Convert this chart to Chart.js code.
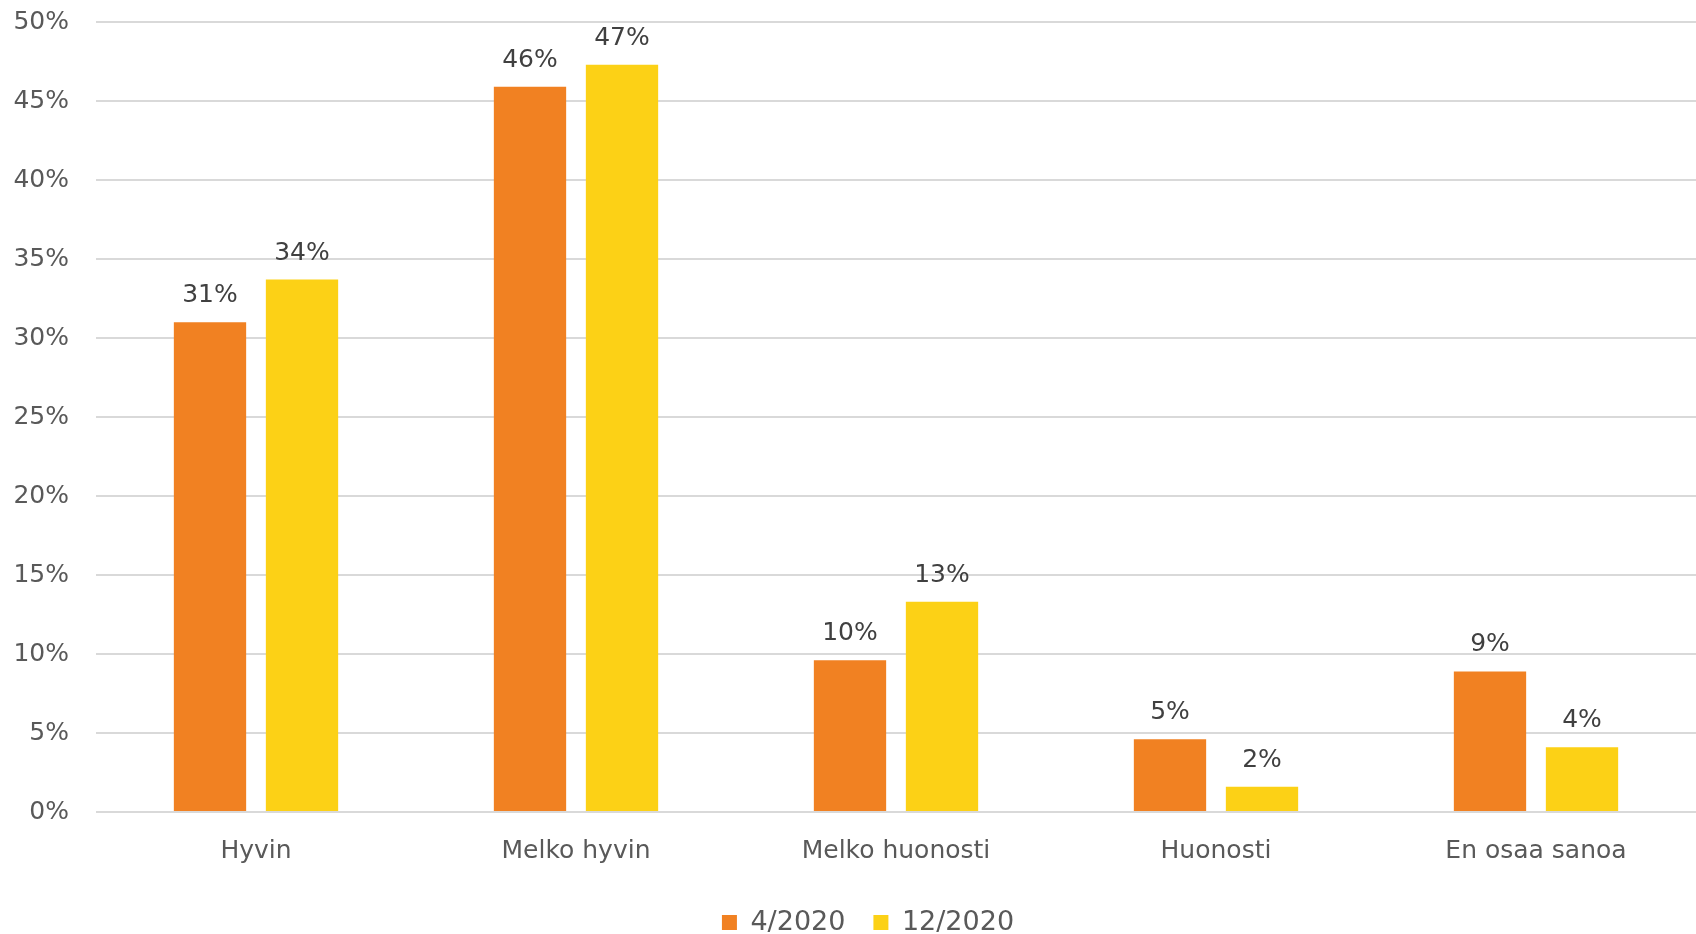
<!DOCTYPE html>
<html>
<head>
<meta charset="utf-8">
<script src="https://cdn.jsdelivr.net/npm/chart.js@4/dist/chart.umd.min.js"></script>
<style>
html,body{margin:0;padding:0;background:#fff;}
#wrap{width:1696px;height:934px;position:relative;}
</style>
</head>
<body>
<div id="wrap"><canvas id="c" width="1696" height="934"></canvas></div>
<script>
const categories = ["Hyvin", "Melko hyvin", "Melko huonosti", "Huonosti", "En osaa sanoa"];
const seriesNames = ["4/2020", "12/2020"];
const values_apr = [31.0, 45.9, 9.6, 4.6, 8.9];
const values_dec = [33.7, 47.3, 13.3, 1.6, 4.1];
const yTicks = [0, 5, 10, 15, 20, 25, 30, 35, 40, 45, 50];

const FONT = "'DejaVu Sans', sans-serif";
const labelPlugin = {
  id: 'barLabels',
  afterLayout(chart) {
    if (chart.legend) { chart.legend.left += 20; chart.legend.right += 20; }
  },
  afterDatasetsDraw(chart) {
    const ctx = chart.ctx;
    ctx.save();
    ctx.font = "25px " + FONT;
    ctx.fillStyle = "#404040";
    ctx.textAlign = "center";
    ctx.textBaseline = "alphabetic";
    chart.data.datasets.forEach((ds, i) => {
      const meta = chart.getDatasetMeta(i);
      meta.data.forEach((bar, j) => {
        ctx.fillText(Math.round(ds.data[j]) + "%", bar.x, bar.y - 20);
      });
    });
    ctx.restore();
  }
};

new Chart(document.getElementById('c'), {
  type: 'bar',
  data: {
    labels: categories,
    datasets: [
      { label: seriesNames[0], data: values_apr, backgroundColor: '#F18122' },
      { label: seriesNames[1], data: values_dec, backgroundColor: '#FCD116' }
    ]
  },
  options: {
    responsive: false,
    animation: false,
    devicePixelRatio: 1,
    layout: { padding: { left: 0, right: 0, top: 0, bottom: -12 } },
    datasets: { bar: { categoryPercentage: 0.575, barPercentage: 0.786 } },
    plugins: {
      legend: {
        position: 'bottom',
        labels: {
          font: { family: FONT, size: 27 },
          color: '#595959',
          boxWidth: 15,
          boxHeight: 15,
          padding: 28
        }
      },
      tooltip: { enabled: false }
    },
    scales: {
      x: {
        grid: { display: false },
        border: { display: false },
        ticks: { font: { family: FONT, size: 25 }, color: '#595959', padding: 16 },
        afterFit(axis) { axis.height = axis.height - 1; }
      },
      y: {
        min: 0, max: 50,
        afterBuildTicks(axis) { axis.ticks = yTicks.map(v => ({ value: v })); },
        afterFit(axis) { axis.width = 96; axis.paddingTop = 22; },
        grid: { color: '#d9d9d9', lineWidth: 2, drawTicks: false },
        border: { display: false },
        ticks: {
          font: { family: FONT, size: 25 },
          color: '#595959',
          padding: 27,
          callback: v => v + '%'
        }
      }
    }
  },
  plugins: [labelPlugin]
});
</script>
</body>
</html>
